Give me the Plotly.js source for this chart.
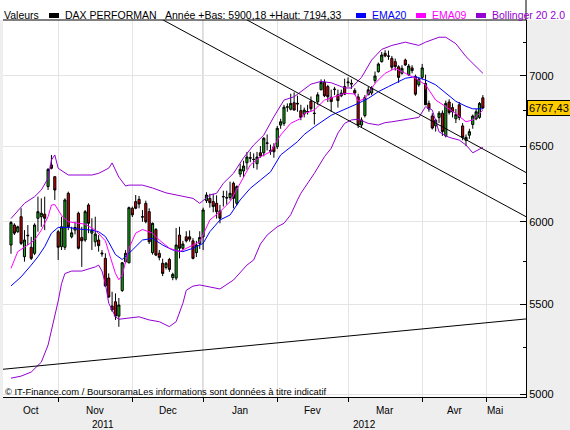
<!DOCTYPE html>
<html><head><meta charset="utf-8">
<script src="https://cdn.plot.ly/plotly-3.0.1.min.js"></script>
<style>html,body{margin:0;padding:0;background:#eeeeee;}#chart{width:570px;height:430px;}</style>
</head><body><div id="chart"></div>
<script>
// ---------- DATA ----------
const holidays = ['2011-12-26','2012-04-06','2012-04-09','2012-05-01'];
const firstDate = '2011-10-12';
const seriesName = 'DAX PERFORMAN';
const yearLow = '5900,18', yearHigh = '7194,33';
const monthNames = ['Jan','Fev','Mar','Avr','Mai','Jun','Jul','Aou','Sep','Oct','Nov','Dec'];

const openP = [5854,5979,5937,6032,5782,5915,5840,5803,6022,6032,6048,6227,6371,6293,5937,5844,5840,6183,5905,5947,
6054,5900,5885,6107,5928,5874,5885,5805,5772,5653,5488,5513,5430,5579,5751,5745,6086,6129,6144,6032,
6118,6064,5807,5951,5803,5742,5717,5765,5656,5653,5916,5834,5905,5905,5880,5807,5864,5905,6135,6150,
6129,6118,6069,6160,6152,6155,6249,6118,6310,6331,6386,6420,6410,6380,6454,6454,6519,6470,6495,6495,
6646,6658,6773,6758,6805,6795,6748,6724,6740,6816,6730,6812,6899,6953,6922,6844,6900,6862,6855,6922,
6950,6940,6894,6847,6646,6713,6862,6875,6966,7032,7107,7170,7150,7132,7107,7068,7020,7119,7008,7060,
6995,6935,6990,6945,6800,6710,6640,6700,6730,6570,6810,6770,6690,6790,6640,6540,6575,6650,6690,6700,6840];
const highP = [6005,5990,5975,6086,5947,5979,5905,5990,6161,6150,6161,6349,6439,6293,5947,6032,6150,6194,5968,6000,
6064,5968,6075,6118,6022,6032,5916,5823,5803,5681,5572,5562,5535,5750,5823,6097,6097,6172,6166,6075,
6135,6086,5995,5960,5823,5770,5750,5775,5685,5960,5968,5880,5940,5945,5897,5880,5940,6090,6190,6180,
6180,6170,6108,6200,6200,6260,6260,6235,6380,6400,6460,6460,6450,6460,6500,6562,6580,6510,6520,6640,
6690,6790,6800,6870,6880,6856,6790,6770,6790,6850,6810,6880,6975,6975,6935,6900,6920,6900,6900,6980,
6990,6975,6910,6870,6700,6860,6920,6925,7033,7100,7180,7194,7190,7150,7130,7080,7080,7130,7090,7080,
7010,6990,7090,7010,6820,6730,6690,6745,6750,6820,6830,6800,6760,6810,6660,6580,6620,6720,6760,6810,6860];
const lowP = [5800,5916,5930,5854,5752,5854,5762,5792,5937,5968,5947,6205,6342,6140,5762,5823,5823,5947,5895,5920,
5827,5720,5874,5928,5823,5844,5813,5782,5600,5535,5455,5408,5369,5571,5742,5742,6030,6080,6086,6000,
5990,5860,5795,5786,5760,5665,5705,5690,5640,5640,5772,5820,5870,5875,5766,5780,5830,5823,6120,6090,
6060,6020,5990,6097,6110,6140,6086,6105,6290,6290,6340,6390,6350,6340,6420,6430,6470,6440,6420,6480,
6620,6640,6740,6750,6750,6740,6680,6700,6720,6740,6650,6790,6895,6845,6810,6740,6860,6770,6845,6860,
6920,6905,6860,6625,6630,6700,6860,6860,6945,7025,7100,7140,7120,7045,7040,6950,7010,7075,7000,7020,
6855,6920,6975,6900,6740,6615,6600,6660,6570,6560,6720,6700,6660,6680,6540,6500,6550,6620,6680,6690,6760];
const closeP = [5995,5928,5968,5864,5885,5912,5772,5979,6064,6054,6022,6342,6349,6205,5840,5968,6140,5968,5930,5964,
5834,5880,6064,5990,5947,5922,5850,5800,5606,5541,5465,5430,5494,5745,5803,6090,6044,6086,6114,6030,
6000,5874,5990,5792,5778,5681,5742,5705,5675,5854,5834,5860,5880,5890,5772,5854,5901,6075,6172,6122,
6097,6064,6022,6162,6155,6183,6150,6227,6342,6364,6425,6418,6408,6425,6432,6554,6521,6465,6461,6623,
6669,6773,6775,6800,6752,6800,6700,6752,6742,6762,6728,6862,6953,6855,6848,6813,6903,6820,6875,6867,
6955,6945,6875,6646,6682,6843,6898,6910,7000,7089,7157,7150,7148,7065,7070,6990,7057,7082,7074,7040,
6867,6977,7060,6790,6760,6625,6680,6730,6600,6800,6735,6740,6720,6700,6560,6560,6600,6710,6740,6800,6767.43];

// indicator lines, sampled by trading-day number (0 = first candle)
const ema20Day = [0,3,6,8,10,12,14,17,20,24,26,28,29,31,33,35,36,39,42,45,48,51,54,57,59,62,65,68,71,74,77,80,83,85,87,90,95,100,103,106,109,112,115,117,120,123,126,129,132,135,137,140];
const ema20Val = [5606,5660,5731,5782,5844,5928,5964,5964,5954,5947,5937,5907,5872,5795,5765,5800,5823,5885,5895,5854,5823,5813,5834,5864,5937,6011,6043,6140,6216,6270,6325,6439,6495,6530,6580,6634,6715,6765,6800,6836,6885,6922,6960,6983,6995,6970,6935,6875,6815,6779,6761,6761];
const ema9Day = [0,2,5,7,9,11,12,13,15,17,20,22,25,28,29,30,31,32,33,35,37,39,42,44,47,50,53,56,59,62,65,68,71,74,77,80,83,86,87,90,93,96,99,102,103,105,108,111,114,117,120,123,126,129,132,135,137,140];
const ema9Val = [5711,5813,5854,5885,5947,6032,6107,6110,6040,6000,5990,5985,5947,5880,5812,5743,5680,5643,5670,5834,5928,5951,5928,5885,5834,5813,5844,5874,6011,6064,6129,6249,6371,6427,6461,6576,6658,6693,6727,6752,6824,6848,6873,6868,6815,6836,6945,7020,7057,7020,6983,6935,6824,6777,6727,6669,6682,6752];
const bollUpDay = [0,4,7,9,11,12,13,14,17,20,24,26,29,30,32,34,35,39,42,46,51,54,56,59,61,63,66,69,72,75,78,81,84,86,89,92,95,99,101,104,107,110,113,117,121,123,127,129,132,135,138,140];
const bollUpVal = [6020,6118,6161,6205,6282,6405,6439,6349,6304,6304,6304,6315,6350,6385,6290,6231,6237,6237,6218,6186,6166,6150,6118,6172,6183,6249,6315,6420,6507,6576,6705,6824,6848,6885,6940,6960,6950,6912,6912,6990,7119,7200,7230,7255,7230,7255,7293,7293,7243,7145,7070,7020];
const bollLoDay = [0,3,6,9,11,12,14,15,16,18,21,25,26,27,28,29,31,32,35,38,41,44,47,49,51,52,54,56,59,62,66,70,72,74,76,79,81,83,85,86,90,93,95,97,99,101,103,106,109,111,113,117,121,123,125,127,130,133,135,137,138,140];
const bollLoVal = [5085,5096,5118,5172,5266,5345,5517,5620,5680,5695,5695,5720,5731,5695,5620,5505,5426,5412,5418,5426,5408,5398,5370,5398,5504,5580,5605,5612,5600,5588,5641,5731,5762,5860,5916,5968,5990,6045,6140,6183,6315,6427,6485,6590,6658,6682,6687,6658,6646,6663,6669,6682,6700,6777,6752,6598,6560,6541,6507,6454,6468,6491];

// hand-drawn trend lines (trading-day number, price)
const trendUpperDay = [68, 153.5],  trendUpperVal = [7457, 6312];
const trendLowerDay = [43, 153.5],  trendLowerVal = [7458, 6024];
const supportDay    = [-3, 153.5],  supportVal    = [5132, 5415];

const yTicks = [5000,5500,6000,6500,7000];
const yTickText = ['5000','5500','6000','6500','7000'];
const yMinor = [5250,5750,6250,6750,7250];

// ---------- BUILD ----------
function buildDays(a,b,hol){
  const out=[]; let d=new Date(a+'T00:00:00Z'); const e=new Date(b+'T00:00:00Z');
  while(d<=e){const wd=d.getUTCDay(); const s=d.toISOString().slice(0,10);
    if(wd!==0&&wd!==6&&!hol.includes(s)) out.push(s); d=new Date(d.getTime()+86400000);}
  return out;
}
const calDays = buildDays('2011-10-03','2012-05-31',holidays);
const off = calDays.indexOf(firstDate);
const n = closeP.length;
const dates = calDays.slice(off, off+n);
const idx = dates.map((_,i)=>i);

const xmin = -2.37, xmax = 152.8;
const months=[];
calDays.forEach((s,k)=>{ if(k===0 || s.slice(0,7)!==calDays[k-1].slice(0,7)) months.push({start:k-off, m:+s.slice(5,7)-1, y:s.slice(0,4)}); });
months.forEach((o,j)=>{ o.end = (j<months.length-1)? months[j+1].start : calDays.length-off; });
const gridStarts = months.map(o=>o.start).filter(v=>v>xmin && v<xmax);
const labelLimit = n-1+6;
const monthLabels = months.filter(o=>o.start<xmax).map(o=>{
  const lo=Math.max(o.start,xmin), hi=Math.min(o.end,labelLimit);
  return {x:(lo+hi)/2, text:monthNames[o.m]};
});
const janStart = months.find(o=>o.m===0).start;
const years = [{text:'2011', x:(xmin+janStart)/2},{text:'2012', x:(janStart+xmax)/2}];

const PL=3, PR=526, PT=20, PB=397;
const px = v=>(v-PL)/(PR-PL), py = v=>(PB-v)/(PB-PT);
const purple='#9400D3', blue='#0000FF', magenta='#FF00FF';
const FONT='Liberation Sans, Arial, sans-serif';

const line=(x,y,c)=>({type:'scatter',mode:'lines',x:x,y:y,line:{color:c,width:1},hoverinfo:'skip'});
const traces=[
  line(bollUpDay,bollUpVal,purple),
  line(bollLoDay,bollLoVal,purple),
  line(ema20Day,ema20Val,blue),
  line(ema9Day,ema9Val,magenta),
  line(trendUpperDay,trendUpperVal,'#000'),
  line(trendLowerDay,trendLowerVal,'#000'),
  line(supportDay,supportVal,'#000'),
  {type:'candlestick', x:idx, open:openP, high:highP, low:lowP, close:closeP, name:seriesName,
   increasing:{line:{color:'#000',width:1},fillcolor:'#14B014'},
   decreasing:{line:{color:'#000',width:1},fillcolor:'#D00000'},
   whiskerwidth:0, hoverinfo:'skip'}
];

const shapes=[
  {type:'rect',xref:'paper',yref:'paper',x0:px(0),x1:px(570),y0:1,y1:py(0),fillcolor:'#FFFFFF',line:{width:0},layer:'below'},
  {type:'line',xref:'paper',yref:'paper',x0:0,x1:1,y0:1,y1:1,line:{color:'#000',width:1}},
  {type:'line',xref:'paper',yref:'paper',x0:1,x1:1,y0:1,y1:py(0),line:{color:'#000',width:1}},
  {type:'line',xref:'x',yref:'paper',x0:janStart,x1:janStart,y0:0,y1:1,line:{color:'#A8A8A8',width:1},layer:'below'},
];
const legendItems=[
  {sq:'#000', sqx:49, text:seriesName, tx:65, col:'#000'},
  {sq:blue, sqx:356, text:'EMA20', tx:372, col:blue},
  {sq:magenta, sqx:416, text:'EMA09', tx:432, col:magenta},
  {sq:purple, sqx:476, text:'Bollinger 20 2.0', tx:492, col:purple}
];
const LF=10.5;
const ann=[];
const ly=py(15);
ann.push({xref:'paper',yref:'paper',x:px(2),y:ly,xanchor:'left',yanchor:'middle',text:'Valeurs',showarrow:false,font:{size:LF,color:'#000'}});
ann.push({xref:'paper',yref:'paper',x:px(163),y:ly,xanchor:'left',yanchor:'middle',text:'Année +Bas: '+yearLow+' +Haut: '+yearHigh,showarrow:false,font:{size:LF,color:'#000'}});
legendItems.forEach(o=>{
  shapes.push({type:'rect',xref:'paper',yref:'paper',x0:px(o.sqx),x1:px(o.sqx+10),y0:py(18),y1:py(13),fillcolor:o.sq,line:{width:0}});
  ann.push({xref:'paper',yref:'paper',x:px(o.tx-2),y:ly,xanchor:'left',yanchor:'middle',text:o.text,showarrow:false,font:{size:LF,color:o.col}});
});
monthLabels.forEach(o=>ann.push({xref:'x',yref:'paper',x:o.x,y:py(410),xanchor:'center',yanchor:'middle',text:o.text,showarrow:false,font:{size:10,color:'#000'}}));
years.forEach(o=>ann.push({xref:'x',yref:'paper',x:o.x,y:py(424),xanchor:'center',yanchor:'middle',text:o.text,showarrow:false,font:{size:10,color:'#000'}}));
ann.push({xref:'paper',yref:'paper',x:px(3),y:py(391),xanchor:'left',yanchor:'middle',text:'© IT-Finance.com / BoursoramaLes informations sont données à titre indicatif',showarrow:false,font:{size:9.4,color:'#000'}});
const last = closeP[n-1];
ann.push({xref:'paper',yref:'y',x:px(527),y:Math.log10(last),xanchor:'left',yanchor:'middle',text:last.toFixed(2).replace('.',','),showarrow:false,
  bgcolor:'#FFCC00',bordercolor:'#000',borderwidth:1,borderpad:1,font:{size:11,color:'#000'}});

const layout={
  width:570,height:430,margin:{l:PL,r:570-PR,t:PT,b:430-PB,pad:0},
  paper_bgcolor:'#EEEEEE',plot_bgcolor:'#FFFFFF',showlegend:false,boxgap:0.1,
  font:{family:FONT,size:11,color:'#000'},
  xaxis:{type:'linear',range:[xmin,xmax],tickmode:'array',tickvals:gridStarts,ticktext:gridStarts.map(()=>''),
    ticks:'outside',ticklen:4,tickcolor:'#000',showgrid:true,gridcolor:'#E4E4E4',showline:true,linecolor:'#000',linewidth:1,
    zeroline:false,rangeslider:{visible:false},fixedrange:true},
  yaxis:{type:'log',side:'right',range:[3.69764,3.87082],tickmode:'array',tickvals:yTicks,ticktext:yTickText,
    ticks:'inside',ticklen:6,tickcolor:'#000',showgrid:true,gridcolor:'#E4E4E4',showline:true,linecolor:'#000',linewidth:1,
    zeroline:false,tickfont:{size:11},fixedrange:true,
    minor:{tickmode:'array',tickvals:yMinor,ticks:'inside',ticklen:3,tickcolor:'#000',showgrid:false}},
  shapes:shapes,annotations:ann
};
Plotly.newPlot('chart',traces,layout,{displayModeBar:false,staticPlot:true});
</script></body></html>
